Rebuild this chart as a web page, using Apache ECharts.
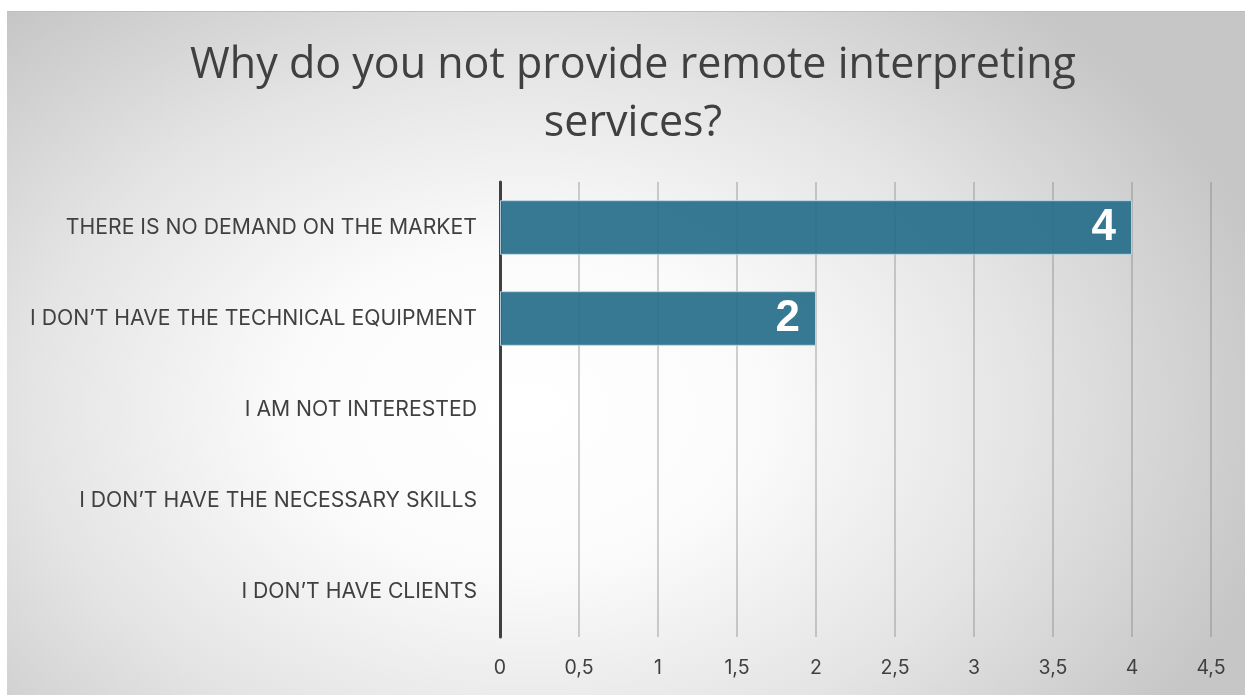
<!DOCTYPE html>
<html>
<head>
<meta charset="utf-8">
<script src="https://cdn.jsdelivr.net/npm/echarts@6/dist/echarts.min.js"></script>
<style>
  html, body { margin: 0; padding: 0; width: 1245px; height: 695px; background: #ffffff; overflow: hidden; }
  #frame {
    position: absolute; left: 7px; top: 11px; width: 1238px; height: 684px;
    border-top: 1px solid #bdbdbd;
    background: radial-gradient(ellipse 62% 78% at 42% 58%, #ffffff 0%, #fbfbfb 30%, #e4e4e4 65%, #c6c6c6 100%);
  }
  #chart { position: absolute; left: 0; top: 0; width: 1245px; height: 695px; }
</style>
</head>
<body>
<div id="frame"></div>
<div id="chart"></div>
<script>
// Survey answers, listed top to bottom
const categories = [
  'THERE IS NO DEMAND ON THE MARKET',
  'I DON\u2019T HAVE THE TECHNICAL EQUIPMENT',
  'I AM NOT INTERESTED',
  'I DON\u2019T HAVE THE NECESSARY SKILLS',
  'I DON\u2019T HAVE CLIENTS'
];
const counts = [4, 2, 0, 0, 0];
const titleLines = ['Why do you not provide remote interpreting', 'services?'];

const chart = echarts.init(document.getElementById('chart'), null, { renderer: 'canvas' });
const textColor = '#404040';

// zero-count bars get no outline so nothing is drawn for them
const barData = counts.map(v => (v ? v : { value: v, itemStyle: { borderWidth: 0 } }));

chart.setOption({
  backgroundColor: 'transparent',
  animation: false,
  title: {
    text: titleLines.join('\n'),
    left: 628,
    textAlign: 'center',
    top: 32,
    textStyle: {
      fontFamily: 'Open Sans',
      fontSize: 43,
      fontWeight: 'normal',
      lineHeight: 58,
      color: textColor
    }
  },
  grid: { left: 500, right: 34, top: 182, bottom: 58, containLabel: false },
  xAxis: {
    type: 'value',
    min: 0,
    max: 4.5,
    interval: 0.5,
    axisLine: { show: false },
    axisTick: { show: false },
    splitLine: { show: true, lineStyle: { color: 'rgba(120,120,120,0.45)', width: 1.5 } },
    axisLabel: {
      margin: 21,
      fontFamily: 'Inter',
      fontSize: 19.5,
      color: textColor,
      formatter: v => String(v).replace('.', ',')
    }
  },
  yAxis: {
    type: 'category',
    inverse: true,
    data: categories,
    axisLine: { show: true, lineStyle: { color: '#404040', width: 3 } },
    axisTick: { show: false },
    axisLabel: {
      margin: 23,
      fontFamily: 'Inter',
      fontSize: 21.2,
      color: textColor
    }
  },
  series: [{
    type: 'bar',
    data: barData,
    barWidth: '60%',
    itemStyle: {
      color: 'rgba(38,108,138,0.92)',
      borderColor: 'rgba(190,215,230,0.9)',
      borderWidth: 1
    },
    label: {
      show: true,
      position: 'insideRight',
      distance: 16,
      fontFamily: 'Liberation Sans',
      fontWeight: 'bold',
      fontSize: 44,
      color: '#ffffff',
      formatter: p => (p.value ? String(p.value) : '')
    }
  }]
});
</script>
</body>
</html>
